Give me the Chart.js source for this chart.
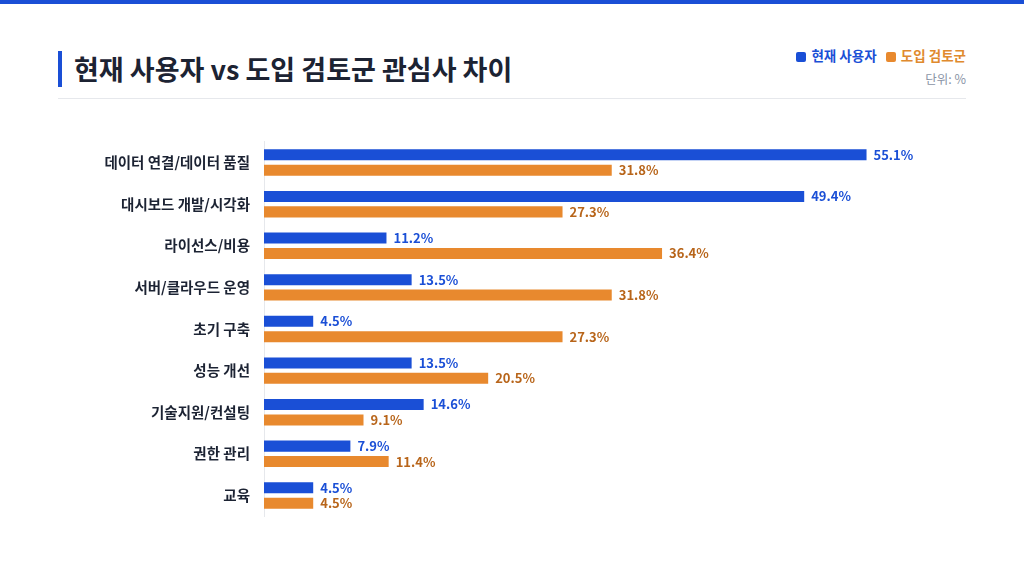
<!DOCTYPE html>
<html><head><meta charset="utf-8">
<script src="https://cdn.jsdelivr.net/npm/chart.js@4"></script>
<style>
body{margin:0;width:1024px;height:576px;background:#fff;font-family:"Noto Sans CJK KR","Noto Sans",sans-serif;position:relative;overflow:hidden}
#top{position:absolute;left:0;top:0;width:1024px;height:4px;background:#1a4fd6}
#title{position:absolute;left:58px;top:51px;height:36px;border-left:4px solid #1a4fd6;padding-left:12px;font-size:27px;font-weight:700;color:#1c2333;line-height:36px}
#sep{position:absolute;left:58px;right:58px;top:98px;height:1px;background:#e6e8ec}
#legend{position:absolute;right:58px;top:45px;font-size:13.5px;font-weight:700;text-align:right}
#legend span.sw{display:inline-block;width:10px;height:10px;border-radius:2px;margin-right:5px;vertical-align:-1px}
#unit{position:absolute;right:58px;top:69px;font-size:12.5px;color:#8a94a6}
#wrap{position:absolute;left:0;top:119px;width:1024px;height:420px}
</style></head><body>
<div id="top"></div>
<div id="title">현재 사용자 vs 도입 검토군 관심사 차이</div>
<div id="legend"><span style="color:#1a4fd6"><span class="sw" style="background:#1a4fd6"></span>현재 사용자</span>&nbsp;&nbsp;&nbsp;<span style="color:#e08a2e"><span class="sw" style="background:#e8892e"></span>도입 검토군</span></div>
<div id="unit">단위: %</div>
<div id="sep"></div>
<div id="wrap"><canvas id="c"></canvas></div>
<script>
const categories=["데이터 연결/데이터 품질","대시보드 개발/시각화","라이선스/비용","서버/클라우드 운영","초기 구축","성능 개선","기술지원/컨설팅","권한 관리","교육"];
const currentUsers=[55.1,49.4,11.2,13.5,4.5,13.5,14.6,7.9,4.5];
const prospects=[31.8,27.3,36.4,31.8,27.3,20.5,9.1,11.4,4.5];
const labelPlugin={id:'lbl',afterDatasetsDraw(ch){const ctx=ch.ctx;ctx.save();ctx.font='bold 13px "Noto Sans CJK KR"';ctx.textBaseline='middle';
ch.data.datasets.forEach((ds,i)=>{ch.getDatasetMeta(i).data.forEach((b,j)=>{ctx.fillStyle=i==0?'#1a4fd6':'#b8651a';ctx.fillText(ds.data[j].toFixed(1)+'%',b.x+7,b.y);});});ctx.restore();}};
new Chart(document.getElementById('c'),{type:'bar',
data:{labels:categories,datasets:[
{label:'현재 사용자',data:currentUsers,backgroundColor:'#1a4fd6',categoryPercentage:0.74,barPercentage:0.72},
{label:'도입 검토군',data:prospects,backgroundColor:'#e8892e',categoryPercentage:0.74,barPercentage:0.72}]},
options:{indexAxis:'y',responsive:true,maintainAspectRatio:false,animation:false,
layout:{padding:0},
plugins:{legend:{display:false},tooltip:{enabled:false}},
scales:{x:{display:false,min:0,max:69.5},
y:{afterFit(s){s.width=264;},grid:{display:false,drawTicks:false},border:{color:'#e6e8ec'},
ticks:{padding:14,color:'#1c2333',font:{size:14.5,weight:'600',family:'"Noto Sans CJK KR"'}}}}},
plugins:[labelPlugin]});
</script></body></html>
